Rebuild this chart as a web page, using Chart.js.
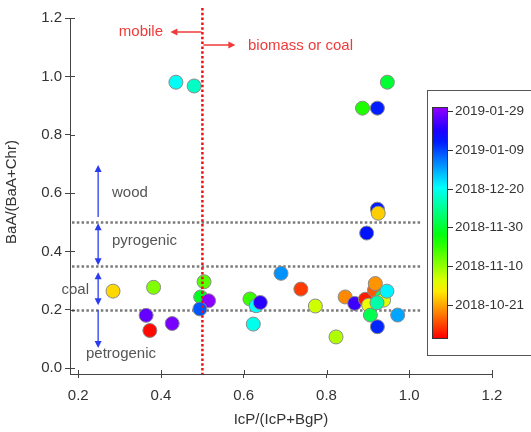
<!DOCTYPE html>
<html>
<head>
<meta charset="utf-8">
<script src="https://cdn.jsdelivr.net/npm/chart.js@4.4.1/dist/chart.umd.min.js"></script>
<style>
  html, body { margin: 0; padding: 0; background: #fff; }
  canvas { display: block; }
</style>
</head>
<body>
<canvas id="myChart" width="531" height="432"></canvas>
<script>
// dữ liệu điểm
var xVals = [0.436, 0.480, 0.947, 0.887, 0.923, 0.923, 0.925, 0.897,
             0.284, 0.382, 0.364, 0.373, 0.427,
             0.504, 0.496, 0.515, 0.494, 0.615, 0.630, 0.640, 0.623, 0.690,
             0.738, 0.773, 0.823, 0.845, 0.868, 0.894, 0.902, 0.916, 0.918,
             0.906, 0.934, 0.938, 0.922, 0.946, 0.923, 0.972];
var yVals = [0.980, 0.967, 0.980, 0.891, 0.891, 0.545, 0.531, 0.463,
             0.264, 0.277, 0.181, 0.129, 0.153,
             0.296, 0.244, 0.231, 0.203, 0.237, 0.214, 0.225, 0.151, 0.325,
             0.271, 0.213, 0.107, 0.244, 0.222, 0.236, 0.216, 0.267, 0.290,
             0.182, 0.244, 0.233, 0.224, 0.264, 0.142, 0.182];
var sampleDates = ['2018-12-20', '2018-12-15', '2018-11-30', '2018-11-22', '2019-01-13', '2019-01-13', '2018-10-25', '2019-01-14',
                   '2018-10-26', '2018-11-12', '2019-01-26', '2018-10-05', '2019-01-28',
                   '2018-11-16', '2018-11-28', '2019-01-30', '2019-01-07', '2018-11-19', '2018-12-21', '2019-01-20', '2018-12-19', '2019-01-01',
                   '2018-10-10', '2018-11-04', '2018-11-07', '2018-10-18', '2019-01-22', '2018-10-07', '2018-11-01', '2018-10-13', '2018-10-19',
                   '2018-12-03', '2018-12-05', '2018-11-02', '2018-12-12', '2018-12-22', '2019-01-12', '2018-12-30'];

var xTicks = [0.2, 0.4, 0.6, 0.8, 1.0, 1.2];
var yTicks = [0.0, 0.2, 0.4, 0.6, 0.8, 1.0, 1.2];
var colorTicks = ['2018-10-21', '2018-11-10', '2018-11-30', '2018-12-20', '2019-01-09', '2019-01-29'];
var colorMin = '2018-10-04', colorMax = '2019-01-31';

var sourceLines = [0.5, 0.35, 0.2];   // ngưỡng BaA/(BaA+Chr)
var ratioLine = 0.5;                  // ngưỡng IcP/(IcP+BgP)

//Hàm đổi ngày thành màu (thang cầu vồng)
function dateFrac(s){
  var a = Date.parse(colorMin), b = Date.parse(colorMax);
  return (Date.parse(s) - a) / (b - a);
}
function dateColor(s){
  var h = Math.max(0, Math.min(1, dateFrac(s))) * 275;
  return 'hsl(' + h.toFixed(1) + ',100%,50%)';
}

var pts = [];
for (var i = 0; i < xVals.length; i++){
  pts.push({x: xVals[i], y: yVals[i]});
}
var ptColors = sampleDates.map(dateColor);

function arrowHead(ctx, x, y, dir, size){
  // dir: 'up','down','left','right'
  ctx.beginPath();
  if (dir == 'up'){ ctx.moveTo(x, y); ctx.lineTo(x - size/2, y + size); ctx.lineTo(x + size/2, y + size); }
  if (dir == 'down'){ ctx.moveTo(x, y); ctx.lineTo(x - size/2, y - size); ctx.lineTo(x + size/2, y - size); }
  if (dir == 'left'){ ctx.moveTo(x, y); ctx.lineTo(x + size, y - size/2); ctx.lineTo(x + size, y + size/2); }
  if (dir == 'right'){ ctx.moveTo(x, y); ctx.lineTo(x - size, y - size/2); ctx.lineTo(x - size, y + size/2); }
  ctx.closePath();
  ctx.fill();
}

var FONT = '"Liberation Sans", Arial, sans-serif';

var backPlugin = {
  id: 'back',
  beforeDatasetsDraw: function(chart){
    var ctx = chart.ctx, xs = chart.scales.x, ys = chart.scales.y;
    var a = chart.chartArea;
    ctx.save();
    // đường chấm xám
    ctx.strokeStyle = '#7a7a7a';
    ctx.lineWidth = 2.5;
    ctx.setLineDash([2.5, 2.3]);
    sourceLines.forEach(function(v){
      var y = Math.round(ys.getPixelForValue(v)) + 0.5;
      ctx.beginPath();
      ctx.moveTo(a.left + 2, y);
      ctx.lineTo(xs.getPixelForValue(1.027), y);
      ctx.stroke();
    });
    ctx.setLineDash([]);

    // mũi tên xanh
    var ax = xs.getPixelForValue(0.248);
    ctx.strokeStyle = '#2b3cf0';
    ctx.fillStyle = '#2b3cf0';
    ctx.lineWidth = 1.3;
    var segs = [[0.518, 0.696, false, true], [0.353, 0.497, true, true], [0.216, 0.329, true, true], [0.069, 0.199, true, false]];
    segs.forEach(function(s){
      var y0 = ys.getPixelForValue(s[0]), y1 = ys.getPixelForValue(s[1]);
      ctx.beginPath();
      ctx.moveTo(ax, y0 + (s[2] ? -5 : 0));
      ctx.lineTo(ax, y1 + (s[3] ? 5 : 0));
      ctx.stroke();
      if (s[2]) arrowHead(ctx, ax, y0, 'down', 7);
      if (s[3]) arrowHead(ctx, ax, y1, 'up', 7);
    });

    // nhãn nguồn
    ctx.fillStyle = '#555';
    ctx.font = '15px ' + FONT;
    ctx.textBaseline = 'middle';
    ctx.textAlign = 'left';
    ctx.fillText('wood', 112, ys.getPixelForValue(0.6));
    ctx.fillText('pyrogenic', 112, ys.getPixelForValue(0.435));
    ctx.fillText('petrogenic', 86, ys.getPixelForValue(0.05));
    ctx.textAlign = 'right';
    ctx.fillText('coal', 89, ys.getPixelForValue(0.268));
    ctx.restore();
  },
  afterDatasetsDraw: function(chart){
    var ctx = chart.ctx, xs = chart.scales.x, ys = chart.scales.y;
    var a = chart.chartArea;
    ctx.save();
    // đường chấm đỏ
    var rx = xs.getPixelForValue(ratioLine);
    ctx.strokeStyle = '#ee1111';
    ctx.lineWidth = 2.5;
    ctx.setLineDash([2.5, 2.3]);
    ctx.beginPath();
    ctx.moveTo(rx, a.top - 10);
    ctx.lineTo(rx, a.bottom);
    ctx.stroke();
    ctx.setLineDash([]);

    ctx.strokeStyle = '#f03a3a';
    ctx.fillStyle = '#f03a3a';
    ctx.lineWidth = 1.5;
    ctx.beginPath(); ctx.moveTo(rx - 1, 32); ctx.lineTo(rx - 28, 32); ctx.stroke();
    arrowHead(ctx, rx - 32, 32, 'left', 7);
    ctx.beginPath(); ctx.moveTo(rx + 1, 45); ctx.lineTo(rx + 29, 45); ctx.stroke();
    arrowHead(ctx, rx + 33, 45, 'right', 7);
    ctx.font = '15px ' + FONT;
    ctx.textBaseline = 'middle';
    ctx.textAlign = 'right';
    ctx.fillText('mobile', 163, 32);
    ctx.textAlign = 'left';
    ctx.fillText('biomass or coal', 248, 46);

    // nửa vạch chia vào trong
    ctx.strokeStyle = '#444';
    ctx.lineWidth = 1;
    xTicks.forEach(function(v){
      var x = Math.round(xs.getPixelForValue(v)) + 0.5;
      ctx.beginPath(); ctx.moveTo(x, a.bottom); ctx.lineTo(x, a.bottom - 4); ctx.stroke();
    });
    yTicks.forEach(function(v){
      var y = Math.round(ys.getPixelForValue(v)) + 0.5;
      ctx.beginPath(); ctx.moveTo(a.left, y); ctx.lineTo(a.left + 5, y); ctx.stroke();
    });
    ctx.restore();
  },
  afterDraw: function(chart){
    var ctx = chart.ctx;
    ctx.save();
    // thanh màu
    ctx.fillStyle = '#fff';
    ctx.fillRect(427, 90, 110, 265);
    ctx.strokeStyle = '#555';
    ctx.lineWidth = 1;
    ctx.strokeRect(427.5, 90.5, 110, 265);
    var bx = 432, bw = 15, top = 107, bot = 338;
    var g = ctx.createLinearGradient(0, bot, 0, top);
    for (var k = 0; k <= 20; k++){
      g.addColorStop(k / 20, 'hsl(' + (k / 20 * 275) + ',100%,50%)');
    }
    ctx.fillStyle = g;
    ctx.fillRect(bx, top, bw, bot - top);
    ctx.strokeStyle = '#333';
    ctx.strokeRect(bx + 0.5, top + 0.5, bw, bot - top);
    ctx.fillStyle = '#333';
    ctx.font = '13.5px ' + FONT;
    ctx.textBaseline = 'middle';
    ctx.textAlign = 'left';
    colorTicks.forEach(function(s){
      var y = Math.round(bot - dateFrac(s) * (bot - top)) + 0.5;
      ctx.beginPath(); ctx.moveTo(bx + bw, y); ctx.lineTo(bx + bw + 6, y); ctx.stroke();
      ctx.fillText(s, bx + bw + 8, y);
    });

    // tiêu đề trục
    ctx.font = '15px ' + FONT;
    ctx.fillStyle = '#333';
    ctx.textAlign = 'center';
    ctx.fillText('IcP/(IcP+BgP)', 281, 420);
    ctx.translate(12, 192);
    ctx.rotate(-Math.PI / 2);
    ctx.fillText('BaA/(BaA+Chr)', 0, 0);
    ctx.restore();
  }
};

new Chart('myChart', {
  type: 'scatter',
  data: {
    datasets: [{
      data: pts,
      backgroundColor: ptColors,
      borderColor: '#8a8a8a',
      borderWidth: 1,
      pointRadius: 7,
      pointHoverRadius: 7
    }]
  },
  options: {
    responsive: false,
    animation: false,
    layout: { padding: { top: 18, right: 39, left: 0, bottom: 0 } },
    plugins: { legend: { display: false }, tooltip: { enabled: false } },
    scales: {
      x: {
        type: 'linear', min: 0.18, max: 1.2,
        afterBuildTicks: function(s){ s.ticks = xTicks.map(function(v){ return {value: v}; }); },
        afterFit: function(s){ s.height = 58; },
        ticks: { callback: function(v){ return v.toFixed(1); }, color: '#333', font: { size: 15, family: FONT }, padding: 9, maxRotation: 0 },
        grid: { drawOnChartArea: false, tickLength: 4, color: '#444' },
        border: { color: '#444', width: 1 }
      },
      y: {
        type: 'linear', min: -0.02, max: 1.2,
        afterBuildTicks: function(s){ s.ticks = yTicks.map(function(v){ return {value: v}; }); },
        afterFit: function(s){ s.width = 70; },
        ticks: { callback: function(v){ return v.toFixed(1); }, color: '#333', font: { size: 15, family: FONT }, padding: 3 },
        grid: { drawOnChartArea: false, tickLength: 5, color: '#444' },
        border: { color: '#444', width: 1 }
      }
    }
  },
  plugins: [backPlugin]
});
</script>
</body>
</html>
